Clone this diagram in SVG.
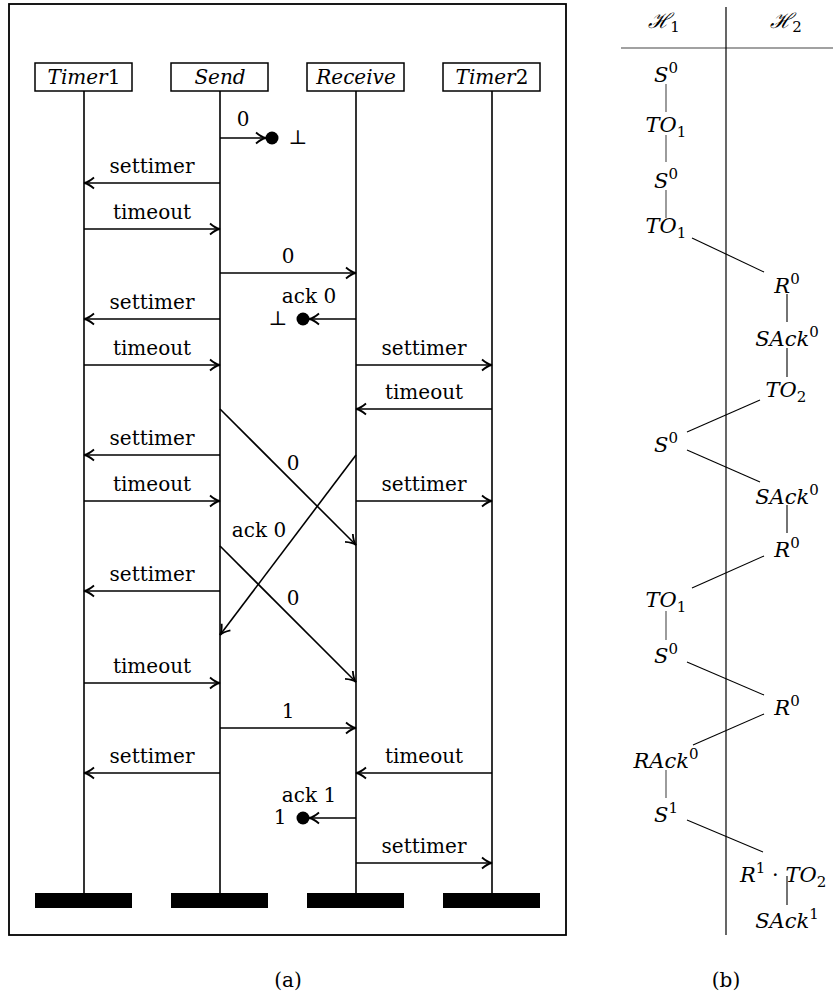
<svg xmlns="http://www.w3.org/2000/svg" width="833" height="1000" viewBox="0 0 833 1000">
<style>
text{font-family:'DejaVu Serif','Liberation Serif',serif;fill:#000}
.ln{stroke:#000;stroke-width:1.6;fill:none}
.arr{stroke:#000;stroke-width:1.6;fill:none;marker-end:url(#ah)}
.box{stroke:#000;stroke-width:1.5;fill:#fff}
.bar{fill:#000}
.t{font-size:20px;text-anchor:middle}
.h{font-size:20px;text-anchor:middle}
.m{font-size:21px;text-anchor:middle}
.i{font-style:italic}
.thin{stroke:#000;stroke-width:1.1;fill:none}
.gray{stroke:#666;stroke-width:1.3;fill:none}
</style>
<defs>
<marker id="ah" markerUnits="userSpaceOnUse" viewBox="-11 -7 13 14" refX="0" refY="0" markerWidth="13" markerHeight="14" orient="auto">
<path d="M-10,-5.5 C-6,-2 -2.5,-0.4 0,0 C-2.5,0.4 -6,2 -10,5.5" stroke="#000" stroke-width="1.8" fill="none"/>
</marker>
</defs>
<rect x="0" y="0" width="833" height="1000" fill="#fff"/>
<rect id="frame" x="9" y="4" width="557" height="931" fill="none" stroke="#000" stroke-width="1.8"/>
<g id="timer1">
<line class="ln" x1="84" y1="91" x2="84" y2="893"/>
<rect class="box" x="35" y="63" width="97" height="28"/>
<text class="h" x="84" y="84"><tspan class="i">Timer</tspan>1</text>
<rect class="bar" x="35" y="893" width="97" height="15"/>
</g>
<g id="send">
<line class="ln" x1="220" y1="91" x2="220" y2="893"/>
<rect class="box" x="171" y="63" width="97" height="28"/>
<text class="h i" x="220" y="84">Send</text>
<rect class="bar" x="171" y="893" width="97" height="15"/>
</g>
<g id="receive">
<line class="ln" x1="356" y1="91" x2="356" y2="893"/>
<rect class="box" x="307" y="63" width="97" height="28"/>
<text class="h i" x="356" y="84">Receive</text>
<rect class="bar" x="307" y="893" width="97" height="15"/>
</g>
<g id="timer2">
<line class="ln" x1="492" y1="91" x2="492" y2="893"/>
<rect class="box" x="443" y="63" width="97" height="28"/>
<text class="h" x="492" y="84"><tspan class="i">Timer</tspan>2</text>
<rect class="bar" x="443" y="893" width="97" height="15"/>
</g>
<g id="connectors-a">
<line class="arr" x1="220" y1="138" x2="266" y2="138"/>
<circle cx="272" cy="138" r="6.5"/>
<text class="t" x="243" y="126">0</text>
<text class="h" x="298" y="144">⊥</text>

<line class="arr" x1="220" y1="183" x2="84" y2="183"/>
<text class="t" x="152" y="173">settimer</text>
<line class="arr" x1="84" y1="229" x2="220" y2="229"/>
<text class="t" x="152" y="219">timeout</text>

<line class="arr" x1="220" y1="273" x2="356" y2="273"/>
<text class="t" x="288" y="263">0</text>

<line class="arr" x1="220" y1="319" x2="84" y2="319"/>
<text class="t" x="152" y="309">settimer</text>
<line class="arr" x1="356" y1="319" x2="309" y2="319"/>
<circle cx="303" cy="319" r="6.5"/>
<text class="t" x="309" y="303">ack 0</text>
<text class="h" x="278" y="325">⊥</text>

<line class="arr" x1="84" y1="365" x2="220" y2="365"/>
<text class="t" x="152" y="355">timeout</text>
<line class="arr" x1="356" y1="365" x2="492" y2="365"/>
<text class="t" x="424" y="355">settimer</text>

<line class="arr" x1="492" y1="409" x2="356" y2="409"/>
<text class="t" x="424" y="399">timeout</text>

<line class="arr" x1="220" y1="455" x2="84" y2="455"/>
<text class="t" x="152" y="445">settimer</text>

<line class="arr" x1="220" y1="409" x2="356" y2="545"/>
<text class="t" x="293" y="470">0</text>

<line class="arr" x1="84" y1="501" x2="220" y2="501"/>
<text class="t" x="152" y="491">timeout</text>
<line class="arr" x1="356" y1="501" x2="492" y2="501"/>
<text class="t" x="424" y="491">settimer</text>

<line class="arr" x1="356" y1="455" x2="220" y2="635"/>
<text class="t" x="259" y="537">ack 0</text>

<line class="arr" x1="220" y1="546" x2="356" y2="682"/>
<text class="t" x="293" y="605">0</text>

<line class="arr" x1="220" y1="591" x2="84" y2="591"/>
<text class="t" x="152" y="581">settimer</text>

<line class="arr" x1="84" y1="683" x2="220" y2="683"/>
<text class="t" x="152" y="673">timeout</text>

<line class="arr" x1="220" y1="728" x2="356" y2="728"/>
<text class="t" x="288" y="718">1</text>

<line class="arr" x1="220" y1="773" x2="84" y2="773"/>
<text class="t" x="152" y="763">settimer</text>
<line class="arr" x1="492" y1="773" x2="356" y2="773"/>
<text class="t" x="424" y="763">timeout</text>

<line class="arr" x1="356" y1="818" x2="309" y2="818"/>
<circle cx="303" cy="818" r="6.5"/>
<text class="t" x="309" y="802">ack 1</text>
<text class="t" x="280" y="824">1</text>

<line class="arr" x1="356" y1="863" x2="492" y2="863"/>
<text class="t" x="424" y="853">settimer</text>
</g>
<text class="h" x="288" y="987">(a)</text>

<g id="table-b">
<line x1="621" y1="48" x2="833" y2="48" stroke="#444" stroke-width="1.2"/>
<line x1="726" y1="7" x2="726" y2="935" stroke="#000" stroke-width="1.2"/>
<text class="m" x="664" y="28"><tspan class="i">ℋ</tspan><tspan font-size="15" dy="4">1</tspan></text>
<text class="m" x="786" y="28"><tspan class="i">ℋ</tspan><tspan font-size="15" dy="4">2</tspan></text>
</g>
<g id="n1"><text class="m" x="666" y="82"><tspan class="i">S</tspan><tspan font-size="15" dy="-9">0</tspan></text></g>
<g id="n2"><text class="m" x="666" y="132"><tspan class="i">TO</tspan><tspan font-size="15" dy="5">1</tspan></text></g>
<g id="n3"><text class="m" x="666" y="188"><tspan class="i">S</tspan><tspan font-size="15" dy="-9">0</tspan></text></g>
<g id="n4"><text class="m" x="666" y="233"><tspan class="i">TO</tspan><tspan font-size="15" dy="5">1</tspan></text></g>
<g id="n5"><text class="m" x="787" y="293"><tspan class="i">R</tspan><tspan font-size="15" dy="-9">0</tspan></text></g>
<g id="n6"><text class="m" x="787" y="346"><tspan class="i">SAck</tspan><tspan font-size="15" dy="-9">0</tspan></text></g>
<g id="n7"><text class="m" x="786" y="397"><tspan class="i">TO</tspan><tspan font-size="15" dy="5">2</tspan></text></g>
<g id="n8"><text class="m" x="666" y="452"><tspan class="i">S</tspan><tspan font-size="15" dy="-9">0</tspan></text></g>
<g id="n9"><text class="m" x="787" y="504"><tspan class="i">SAck</tspan><tspan font-size="15" dy="-9">0</tspan></text></g>
<g id="n10"><text class="m" x="787" y="557"><tspan class="i">R</tspan><tspan font-size="15" dy="-9">0</tspan></text></g>
<g id="n11"><text class="m" x="666" y="607"><tspan class="i">TO</tspan><tspan font-size="15" dy="5">1</tspan></text></g>
<g id="n12"><text class="m" x="666" y="663"><tspan class="i">S</tspan><tspan font-size="15" dy="-9">0</tspan></text></g>
<g id="n13"><text class="m" x="787" y="715"><tspan class="i">R</tspan><tspan font-size="15" dy="-9">0</tspan></text></g>
<g id="n14"><text class="m" x="666" y="768"><tspan class="i">RAck</tspan><tspan font-size="15" dy="-9">0</tspan></text></g>
<g id="n15"><text class="m" x="666" y="822"><tspan class="i">S</tspan><tspan font-size="15" dy="-9">1</tspan></text></g>
<g id="n16"><text font-size="21" x="740" y="882"><tspan class="i">R</tspan><tspan font-size="15" dy="-9">1</tspan><tspan dy="9"> · </tspan><tspan class="i">TO</tspan><tspan font-size="15" dy="5">2</tspan></text></g>
<g id="n17"><text class="m" x="787" y="928"><tspan class="i">SAck</tspan><tspan font-size="15" dy="-9">1</tspan></text></g>
<g id="connectors-b">
<line class="gray" x1="666" y1="84" x2="666" y2="112"/>
<line class="gray" x1="666" y1="135" x2="666" y2="162"/>
<line class="gray" x1="666" y1="190" x2="666" y2="218"/>
<line class="thin" x1="692" y1="238" x2="764" y2="272"/>
<line class="thin" x1="787" y1="294" x2="787" y2="322"/>
<line class="thin" x1="787" y1="348" x2="787" y2="377"/>
<line class="thin" x1="760" y1="400" x2="687" y2="432"/>
<line class="thin" x1="687" y1="450" x2="760" y2="482"/>
<line class="thin" x1="787" y1="505" x2="787" y2="533"/>
<line class="thin" x1="764" y1="556" x2="692" y2="588"/>
<line class="gray" x1="666" y1="611" x2="666" y2="640"/>
<line class="thin" x1="687" y1="662" x2="764" y2="695"/>
<line class="thin" x1="764" y1="714" x2="693" y2="745"/>
<line class="gray" x1="666" y1="770" x2="666" y2="798"/>
<line class="thin" x1="687" y1="820" x2="763" y2="852"/>
<line class="thin" x1="787" y1="876" x2="787" y2="905"/>
</g>
<text class="h" x="726" y="987">(b)</text>
</svg>
